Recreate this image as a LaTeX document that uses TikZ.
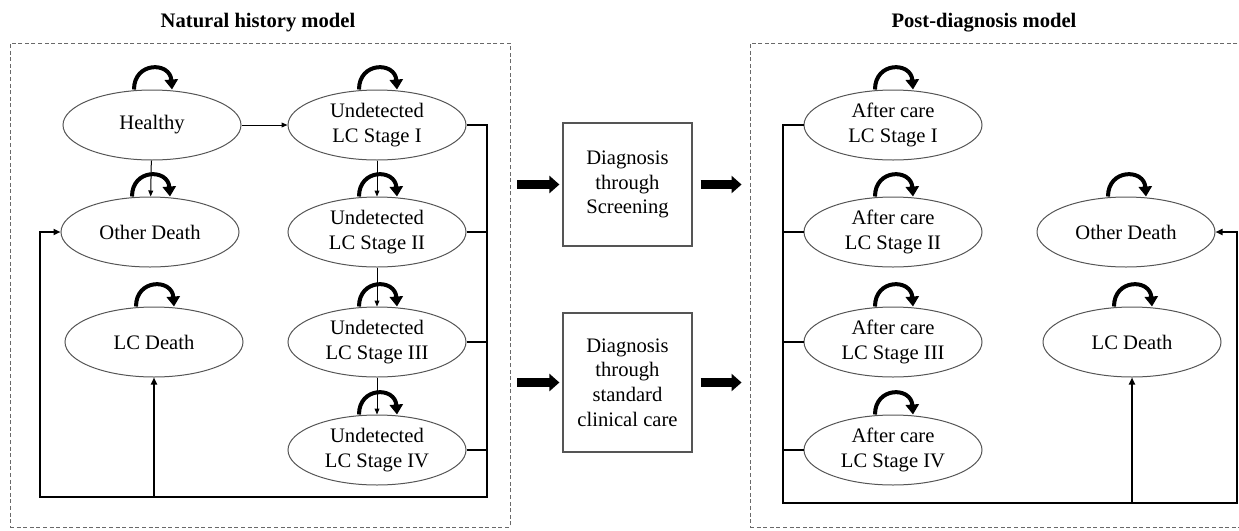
\documentclass[tikz,border=0pt]{standalone}
\usepackage{fontspec}
\setmainfont{Liberation Serif}
\usetikzlibrary{arrows.meta, positioning, calc, shapes.geometric}
\definecolor{outline}{RGB}{85,85,85}
\definecolor{panelgray}{RGB}{105,105,105}

\begin{document}
\begin{tikzpicture}[x=0.5pt, y=-0.5pt, font=\rmfamily\fontsize{10.3}{12.3}\selectfont,
  state/.style={ellipse, draw=outline, line width=0.5pt, minimum width=89pt, minimum height=35pt, inner sep=0pt, align=center},
  diagbox/.style={draw=outline, line width=0.6pt, minimum width=64.5pt, inner sep=0pt, align=center},
  panel/.style={draw=panelgray, line width=0.45pt, dash pattern=on 2pt off 1.3pt, minimum width=250pt, minimum height=242pt, inner sep=0pt},
  selfloop/.style={line width=2pt, -{Triangle[length=5pt,width=6.5pt]}},
  thinarrow/.style={line width=0.5pt, -{Triangle[length=3pt,width=2.4pt]}},
  bracket/.style={line width=0.9pt},
  blockarrow/.style={line width=4.5pt, -{Triangle[length=5pt,width=8.5pt]}}]

  \useasboundingbox (0,0) rectangle (1239,531);

  % the two model panels
  \node[panel] (nh) at (260,285) {};
  \node[panel] (pd) at (1000,285) {};
  \node[font=\rmfamily\fontsize{10.3}{12}\selectfont\bfseries] (nhtitle) at (258,23) {Natural history model};
  \node[font=\rmfamily\fontsize{10.3}{12}\selectfont\bfseries] (pdtitle) at (984,23) {Post-diagnosis model};

  % natural history states
  \node[state] (healthy) at (152,125) {Healthy};
  \node[state] (odeath) at (150,232) {Other Death};
  \node[state] (lcdeath) at (154,342) {LC Death};
  \foreach \i/\r/\y in {1/I/125,2/II/232,3/III/342,4/IV/450} {
    \node[state] (und\i) at (377,\y) {Undetected\\LC Stage \r};
    \node[state] (after\i) at (893,\y) {After care\\LC Stage \r};
  }

  % post-diagnosis deaths
  \node[state] (podeath) at (1126,232) {Other Death};
  \node[state] (plcdeath) at (1132,342) {LC Death};

  % diagnosis boxes
  \node[diagbox, minimum height=61.5pt] (screen) at (627.5,184.5) {Diagnosis\\through\\Screening};
  \node[diagbox, minimum height=69.5pt] (clinic) at (627.5,382.5) {Diagnosis\\through\\standard\\clinical care};

  % self transitions
  \foreach \n in {healthy,odeath,lcdeath,und1,und2,und3,und4,after1,after2,after3,after4,podeath,plcdeath}
    \draw[selfloop] ([xshift=-9pt]\n.north) .. controls +(0,-28) and +(-2,-28) .. ([xshift=10pt]\n.north);

  % progression
  \draw[thinarrow] (healthy) -- (und1);
  \draw[thinarrow] (healthy) -- (odeath);
  \foreach \i/\j in {1/2,2/3,3/4}
    \draw[thinarrow] (und\i) -- (und\j);

  % deaths from undetected stages
  \coordinate (nhR) at (487,497);
  \coordinate (nhL) at (40,497);
  \draw[bracket, -{Triangle[length=3.5pt,width=3pt]}] (und1.east) -| (nhR) -- (nhL) |- (odeath.west);
  \foreach \i in {2,3,4}
    \draw[bracket] (und\i.east) -- (und\i.east -| nhR);
  \draw[bracket, -{Triangle[length=3.5pt,width=3pt]}] (nhL -| lcdeath) -- (lcdeath.south);

  % deaths after care
  \coordinate (pdL) at (783,503);
  \coordinate (pdR) at (1237,503);
  \draw[bracket, -{Triangle[length=3.5pt,width=3pt]}] (after1.west) -| (pdL) -- (pdR) |- (podeath.east);
  \foreach \i in {2,3,4}
    \draw[bracket] (after\i.west) -- (after\i.west -| pdL);
  \draw[bracket, -{Triangle[length=3.5pt,width=3pt]}] (pdR -| plcdeath) -- (plcdeath.south);

  % between the models
  \foreach \b in {screen,clinic} {
    \draw[blockarrow] ([xshift=3.5pt]nh.east |- \b) -- ([xshift=-1.5pt]\b.west);
    \draw[blockarrow] ([xshift=4pt]\b.east) -- ([xshift=-4pt]pd.west |- \b);
  }
\end{tikzpicture}
\end{document}
